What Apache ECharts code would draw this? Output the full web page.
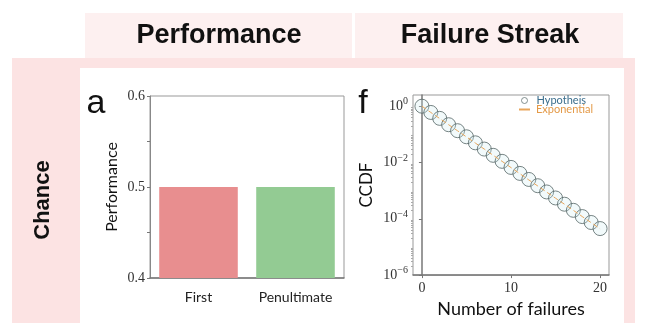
<!DOCTYPE html>
<html>
<head>
<meta charset="utf-8">
<script src="https://cdn.jsdelivr.net/npm/echarts@6/dist/echarts.min.js"></script>
<style>
  html, body { margin: 0; padding: 0; background: #fff; }
  #chart { width: 646px; height: 323px; }
</style>
</head>
<body>
<div id="chart"></div>
<script>
// panel a: performance of first vs penultimate
const barCats = ['First', 'Penultimate'];
const barVals = [0.5, 0.5];
const barColors = ['#e88e8f', '#93cb93'];
const perfTickLabels = [0.4, 0.5, 0.6];
const perfTicks = [0.4, 0.45, 0.5, 0.55, 0.6];

// panel f: failure streak CCDF
const failures = [0, 1, 2, 3, 4, 5, 6, 7, 8, 9, 10, 11, 12, 13, 14, 15, 16, 17, 18, 19, 20];
const hypothesisCcdf = [1, 0.6, 0.37, 0.22, 0.135, 0.082, 0.05, 0.03, 0.018, 0.011, 0.0067,
  0.0041, 0.0025, 0.0015, 0.0009, 0.00055, 0.00033, 0.0002, 0.00012, 0.000074, 0.000045];
const exponentialCcdf = [1, 0.6, 0.365, 0.22, 0.134, 0.081, 0.049, 0.03, 0.018, 0.011, 0.0066,
  0.004, 0.0024, 0.00147, 0.00089, 0.00054, 0.00033, 0.0002, 0.00012, 0.000073, 0.000044];
const failTicks = [0, 10, 20];
const ccdfTicks = [1e-6, 1e-4, 1e-2, 1];

// small log ticks between decades
const ccdfMinor = [];
for (let e = -6; e < 0; e++) {
  for (let k = 2; k <= 9; k++) ccdfMinor.push(k * Math.pow(10, e));
}

const serif = '"Liberation Serif", "DejaVu Serif", serif';
const sans = 'Lato, "Open Sans", sans-serif';
const bold = '"Liberation Sans", Arial, sans-serif';
const orange = '#e8a55a';

function pow10Label(v) {
  const e = Math.round(Math.log10(v));
  return '{b|10}{s|' + (e < 0 ? '\u2212' + (-e) : e) + '}';
}

const chart = echarts.init(document.getElementById('chart'));
chart.setOption({
  animation: false,
  backgroundColor: '#fff',
  graphic: [
    { type: 'rect', z: -10, shape: { x: 85, y: 13, width: 267, height: 45 }, style: { fill: '#fdf0f0' } },
    { type: 'rect', z: -10, shape: { x: 355, y: 13, width: 268, height: 45 }, style: { fill: '#fdf0f0' } },
    { type: 'rect', z: -10, shape: { x: 12, y: 58, width: 623, height: 265 }, style: { fill: '#fce3e3' } },
    { type: 'rect', z: -9, shape: { x: 80, y: 68, width: 544, height: 255 }, style: { fill: '#fff' } },
    { type: 'text', z: 100, x: 219, y: 36, style: { text: 'Performance', font: 'bold 27px ' + bold, fill: '#111', align: 'center', verticalAlign: 'middle' } },
    { type: 'text', z: 100, x: 490, y: 36, style: { text: 'Failure Streak', font: 'bold 27px ' + bold, fill: '#111', align: 'center', verticalAlign: 'middle' } },
    { type: 'text', z: 100, x: 43, y: 200, rotation: Math.PI / 2, style: { text: 'Chance', font: 'bold 22px ' + bold, fill: '#111', align: 'center', verticalAlign: 'middle' } },
    { type: 'text', z: 100, x: 96, y: 104, style: { text: 'a', font: '34px ' + bold, fill: '#111', align: 'center', verticalAlign: 'middle' } },
    { type: 'text', z: 100, x: 363, y: 104, style: { text: 'f', font: '34px ' + bold, fill: '#111', align: 'center', verticalAlign: 'middle' } }
  ],
  grid: [
    { left: 150, top: 96, width: 194, height: 182, show: true, borderColor: '#999', borderWidth: 1, backgroundColor: 'transparent' },
    { left: 413, top: 95, width: 196, height: 182, show: true, borderColor: '#999', borderWidth: 1, backgroundColor: 'transparent' }
  ],
  legend: [
    {
      left: 521, top: 95, itemWidth: 6, itemHeight: 6, itemGap: 0, padding: 0,
      textStyle: { fontFamily: sans, fontSize: 11, padding: [0, 0, 0, 4] },
      data: [{ name: 'Hypotheis', icon: 'circle', itemStyle: { color: 'transparent', borderColor: '#667777', borderWidth: 1 }, textStyle: { color: '#3a6d8c' } }]
    },
    {
      left: 519, top: 104, itemWidth: 11, itemHeight: 2, itemGap: 0, padding: 0,
      textStyle: { fontFamily: sans, fontSize: 11, padding: [0, 0, 0, 1] },
      data: [{ name: 'Exponential', icon: 'rect',
        itemStyle: { color: orange, borderWidth: 0 },
        lineStyle: { color: orange, width: 1, type: 'solid' },
        textStyle: { color: '#e49a48' } }]
    }
  ],
  xAxis: [
    {
      type: 'category', gridIndex: 0, data: barCats,
      axisLine: { lineStyle: { color: '#777', width: 1.5 } },
      axisTick: { alignWithLabel: true, length: 3, lineStyle: { color: '#777' } },
      axisLabel: { fontFamily: sans, fontSize: 14, color: '#222', margin: 12 }
    },
    {
      type: 'value', gridIndex: 1, min: -1, max: 21,
      name: 'Number of failures', nameLocation: 'middle', nameGap: 24,
      nameTextStyle: { fontFamily: sans, fontSize: 18, color: '#111' },
      splitLine: { show: false },
      axisLine: { lineStyle: { color: '#777', width: 1.5 } },
      axisTick: { customValues: failTicks, length: 3, lineStyle: { color: '#777' } },
      axisLabel: { customValues: failTicks, fontFamily: serif, fontSize: 14, color: '#333', margin: 6 }
    }
  ],
  yAxis: [
    {
      type: 'value', gridIndex: 0, min: 0.4, max: 0.6,
      name: 'Performance', nameLocation: 'middle', nameGap: 30,
      nameTextStyle: { fontFamily: sans, fontSize: 16, color: '#111' },
      splitLine: { show: false },
      axisLine: { show: true, lineStyle: { color: '#888', width: 1 } },
      axisTick: { show: true, customValues: perfTicks, length: 3, lineStyle: { color: '#777' } },
      axisLabel: { customValues: perfTickLabels, fontFamily: serif, fontSize: 14, color: '#333', margin: 5,
        formatter: v => v.toFixed(1) }
    },
    {
      type: 'log', gridIndex: 1, logBase: 10, min: 1e-6, max: 2.5,
      name: 'CCDF', nameLocation: 'middle', nameGap: 38,
      nameTextStyle: { fontFamily: sans, fontSize: 17, color: '#111' },
      splitLine: { show: false },
      axisLine: { show: true, lineStyle: { color: '#777', width: 1.5 } },
      axisTick: { show: true, customValues: ccdfTicks, length: 3, lineStyle: { color: '#777' } },
      axisLabel: {
        customValues: ccdfTicks, margin: 5, formatter: pow10Label,
        rich: {
          b: { fontFamily: serif, fontSize: 14, color: '#333' },
          s: { fontFamily: serif, fontSize: 10, color: '#333', padding: [0, 0, 9, 0] }
        }
      }
    },
    {
      type: 'log', gridIndex: 1, logBase: 10, min: 1e-6, max: 2.5, position: 'left',
      splitLine: { show: false },
      axisLine: { show: false },
      axisTick: { show: true, customValues: ccdfMinor, length: 2, lineStyle: { color: '#aaa' } },
      axisLabel: { show: false }
    }
  ],
  series: [
    {
      type: 'bar', xAxisIndex: 0, yAxisIndex: 0, barCategoryGap: '19%',
      data: barVals.map((v, i) => ({ value: v, itemStyle: { color: barColors[i] } }))
    },
    {
      name: 'Exponential', type: 'line', xAxisIndex: 1, yAxisIndex: 1, z: 3,
      symbol: 'none', color: orange, itemStyle: { color: orange },
      lineStyle: { color: orange, width: 1, type: [5, 3] },
      data: failures.map((x, i) => [x, exponentialCcdf[i]])
    },
    {
      name: 'Hypotheis', type: 'scatter', xAxisIndex: 1, yAxisIndex: 1, z: 2,
      symbol: 'circle', symbolSize: 14,
      itemStyle: { color: 'rgba(200,235,240,0.3)', borderColor: '#556565', borderWidth: 1 },
      data: failures.map((x, i) => [x, hypothesisCcdf[i]])
    }
  ]
});
</script>
</body>
</html>
